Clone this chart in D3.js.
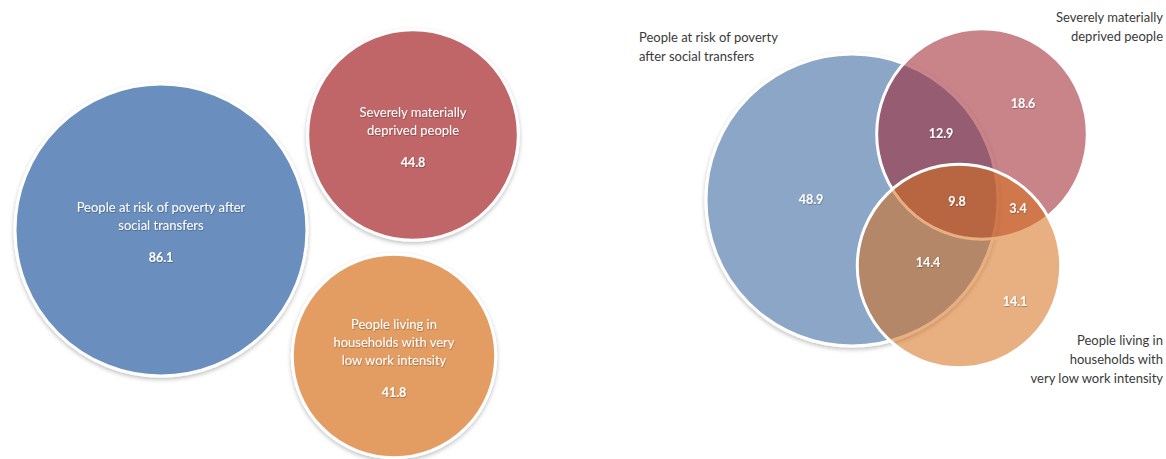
<!DOCTYPE html>
<html>
<head>
<meta charset="utf-8">
<script src="https://cdn.jsdelivr.net/npm/d3@7/dist/d3.min.js"></script>
<style>
  html, body { margin: 0; padding: 0; background: #ffffff; }
  svg { display: block; }
  text { font-family: Lato, "Open Sans", sans-serif; }
</style>
</head>
<body>
<svg id="chart" width="1166" height="459"></svg>
<script>
// ---- data ----
const categories = ["poverty", "deprived", "lowWork"];
const totals = [86.1, 44.8, 41.8];
const leftLabels = [
  ["People at risk of poverty after", "social transfers"],
  ["Severely materially", "deprived people"],
  ["People living in", "households with very", "low work intensity"]
];
const rightLabels = [
  ["People at risk of poverty", "after social transfers"],
  ["Severely materially", "deprived people"],
  ["People living in", "households with", "very low work intensity"]
];
// Venn region values
const regionNames = ["poverty only", "deprived only", "lowWork only", "poverty & deprived", "poverty & lowWork", "deprived & lowWork", "all three"];
const regionValues = [48.9, 18.6, 14.1, 12.9, 14.4, 3.4, 9.8];

// ---- layout / style ----
const leftColors = ["#6a8fbe", "#c06668", "#e39d62"];
const rightFills = ["#8ca6c8", "rgb(158,36,47)", "rgb(214,110,26)"];
const rightOpacity = [1, 0.56, 0.55];
const leftCenters = [[161, 230], [413, 135], [394, 356]];
const rightCenters = [[852, 200], [982, 134], [959, 266]];
const regionPos = [[811, 200], [1023, 104], [1015, 302], [941, 134], [928, 263], [1018, 209], [957, 202]];

const svg = d3.select("#chart");
const r = d3.scaleSqrt().domain([0, 86.1]).range([0, 146]);

const defs = svg.append("defs");
const f = defs.append("filter").attr("id", "shadow").attr("x", "-10%").attr("y", "-10%").attr("width", "120%").attr("height", "125%");
f.append("feDropShadow").attr("dx", 0).attr("dy", 2).attr("stdDeviation", 2).attr("flood-color", "#000").attr("flood-opacity", 0.25);
const ts = defs.append("filter").attr("id", "tshadow");
ts.append("feDropShadow").attr("dx", 0.5).attr("dy", 0.8).attr("stdDeviation", 0.6).attr("flood-color", "#000").attr("flood-opacity", 0.35);

// ---- left: separate circles ----
const left = svg.append("g");
const lg = left.selectAll("g.c").data(totals).join("g").attr("class", "c")
  .attr("transform", (d, i) => `translate(${leftCenters[i][0]},${leftCenters[i][1]})`);
lg.append("circle")
  .attr("r", d => r(d))
  .attr("fill", (d, i) => leftColors[i])
  .attr("stroke", "#ffffff").attr("stroke-width", 3)
  .attr("filter", "url(#shadow)");

const lineH = 18;
lg.each(function(d, i) {
  const g = d3.select(this);
  const lines = leftLabels[i];
  const n = lines.length;
  const blockTop = -14 - 9 * (n - 1);
  const t = g.append("text").attr("text-anchor", "middle").attr("fill", "#ffffff")
    .attr("font-size", 13).attr("filter", "url(#tshadow)");
  lines.forEach((ln, k) => {
    t.append("tspan").attr("x", 0).attr("y", blockTop + k * lineH).attr("dy", "0.35em").text(ln);
  });
  g.append("text").attr("text-anchor", "middle").attr("fill", "#ffffff")
    .attr("font-size", 12.5).attr("font-weight", 700).attr("filter", "url(#tshadow)")
    .attr("x", 0).attr("y", blockTop + (n - 1) * lineH + 33).attr("dy", "0.35em")
    .text(d3.format(".1f")(d));
});

// ---- right: Venn ----
const right = svg.append("g");
right.selectAll("circle").data(totals).join("circle")
  .attr("cx", (d, i) => rightCenters[i][0])
  .attr("cy", (d, i) => rightCenters[i][1])
  .attr("r", d => r(d))
  .attr("fill", (d, i) => rightFills[i])
  .attr("fill-opacity", (d, i) => rightOpacity[i])
  .attr("stroke", "#ffffff").attr("stroke-width", 3)
  .attr("filter", (d, i) => i === 0 ? "url(#shadow)" : null);

right.selectAll("text.v").data(regionValues).join("text").attr("class", "v")
  .attr("x", (d, i) => regionPos[i][0]).attr("y", (d, i) => regionPos[i][1])
  .attr("dy", "0.35em").attr("text-anchor", "middle")
  .attr("fill", "#ffffff").attr("font-size", 12.5).attr("font-weight", 700)
  .attr("filter", "url(#tshadow)")
  .text(d => d3.format(".1f")(d));

// outside labels
const outPos = [[639, 37, "start"], [1163, 17, "end"], [1163, 340, "end"]];
rightLabels.forEach((lines, i) => {
  const t = svg.append("text").attr("fill", "#3a3a3a").attr("font-size", 13)
    .attr("text-anchor", outPos[i][2]);
  lines.forEach((ln, k) => {
    t.append("tspan").attr("x", outPos[i][0]).attr("y", outPos[i][1] + k * 19).attr("dy", "0.35em").text(ln);
  });
});
</script>
</body>
</html>
